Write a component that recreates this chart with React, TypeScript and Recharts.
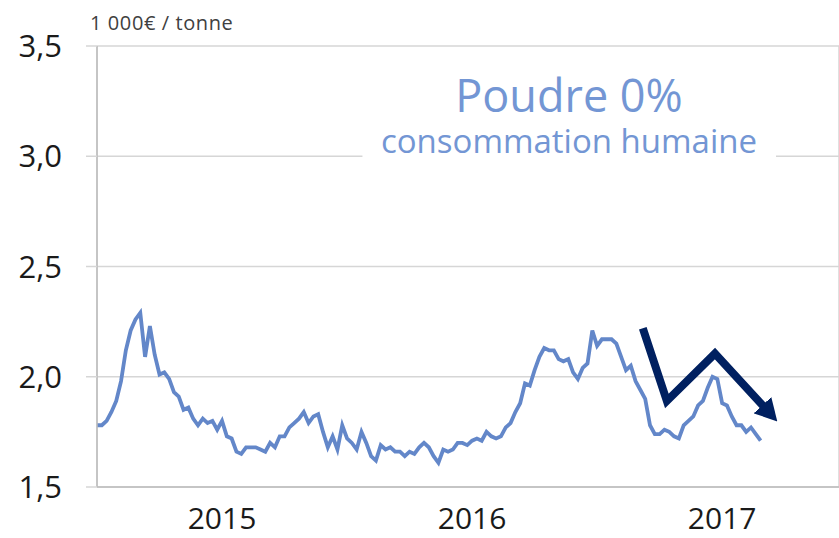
import {
  LineChart,
  Line,
  XAxis,
  YAxis,
  CartesianGrid,
  ReferenceArea,
} from "recharts";

// weekly prices, 1 000 € / tonne
const prices2015 = [
  1.78, 1.78, 1.8, 1.84, 1.89, 1.98, 2.12, 2.21, 2.26, 2.29, 2.09, 2.23, 2.1,
  2.01, 2.02, 1.99, 1.93, 1.91, 1.85, 1.86, 1.81, 1.78, 1.81, 1.79, 1.8, 1.76,
  1.8, 1.73, 1.72, 1.66, 1.65, 1.68, 1.68, 1.68, 1.67, 1.66, 1.7, 1.68, 1.73,
  1.73, 1.77, 1.79, 1.81, 1.84, 1.79, 1.82, 1.83, 1.75, 1.68, 1.73, 1.67, 1.78,
];
const prices2016 = [
  1.72, 1.7, 1.67, 1.75, 1.7, 1.64, 1.62, 1.69, 1.67, 1.68, 1.66, 1.66, 1.64,
  1.66, 1.65, 1.68, 1.7, 1.68, 1.64, 1.61, 1.67, 1.66, 1.67, 1.7, 1.7, 1.69,
  1.71, 1.72, 1.71, 1.75, 1.73, 1.72, 1.73, 1.77, 1.79, 1.84, 1.88, 1.97, 1.96,
  2.03, 2.09, 2.13, 2.12, 2.12, 2.08, 2.07, 2.08, 2.02, 1.99, 2.04, 2.06, 2.21,
];
const prices2017 = [
  2.14, 2.17, 2.17, 2.17, 2.15, 2.09, 2.03, 2.05, 1.98, 1.94, 1.9, 1.78, 1.74,
  1.74, 1.76, 1.75, 1.73, 1.72, 1.78, 1.8, 1.82, 1.87, 1.89, 1.95, 2.0, 1.99,
  1.88, 1.87, 1.82, 1.78, 1.78, 1.75, 1.77, 1.74, 1.71,
];

const yearLabels = ["2015", "2016", "2017"];
const yearStarts = [0, 52, 104];
const yearMids = [26, 78, 130];
const yTicks = [1.5, 2.0, 2.5, 3.0, 3.5];

// trend arrow, in (week, value)
const arrowPoints = [
  { week: 113.5, value: 2.22 },
  { week: 118.5, value: 1.89 },
  { week: 128.5, value: 2.105 },
  { week: 138.8, value: 1.861 },
];

const data = [...prices2015, ...prices2016, ...prices2017].map((v, i) => ({
  week: i,
  price: v,
}));

const X_DOMAIN: [number, number] = [0, 154.3];
const LINE_COLOR = "#6387c9";
const TITLE_COLOR = "#7396d4";
const ARROW_COLOR = "#002060";
const GRID = "#d6d6d6";
const AXIS = "#bcbcbc";
const FONT = "'Open Sans', sans-serif";

export default function App() {
  return (
    <div
      style={{
        position: "absolute",
        left: 0,
        top: 0,
        width: 839,
        height: 538,
        background: "#fff",
        fontFamily: FONT,
      }}
    >
      <LineChart
        width={839}
        height={538}
        data={data}
        margin={{ top: 46, right: 0, bottom: 0, left: 0 }}
      >
        <CartesianGrid stroke={GRID} strokeWidth={1.5} />
        <ReferenceArea
          x1={55.2}
          x2={141.2}
          y1={2.97}
          y2={3.4}
          fill="#fff"
          fillOpacity={1}
          stroke="none"
        />
        <XAxis
          dataKey="week"
          type="number"
          domain={X_DOMAIN}
          ticks={yearStarts}
          tick={false}
          tickSize={10}
          height={10}
          axisLine={{ stroke: AXIS, strokeWidth: 1.5 }}
          tickLine={{ stroke: AXIS, strokeWidth: 1.5 }}
        />
        <XAxis
          xAxisId="years"
          dataKey="week"
          type="number"
          domain={X_DOMAIN}
          ticks={yearMids}
          tickFormatter={(v) => yearLabels[yearMids.indexOf(v)]}
          axisLine={false}
          tickLine={false}
          tickSize={0}
          tickMargin={11}
          height={41}
          tick={{ fontSize: 30, fill: "#1a1a1a", fontFamily: FONT }}
        />
        <YAxis
          type="number"
          domain={[1.5, 3.5]}
          ticks={yTicks}
          width={97}
          tickSize={11}
          tickMargin={24}
          tickFormatter={(v) => v.toFixed(1).replace(".", ",")}
          axisLine={{ stroke: AXIS, strokeWidth: 1.5 }}
          tickLine={{ stroke: GRID, strokeWidth: 1.5 }}
          tick={{ fontSize: 31, fill: "#1a1a1a", fontFamily: FONT }}
        />
        <Line
          dataKey="price"
          type="linear"
          stroke={LINE_COLOR}
          strokeWidth={3.8}
          dot={false}
          activeDot={false}
          isAnimationActive={false}
        />
        <Line
          data={arrowPoints}
          dataKey="value"
          type="linear"
          stroke={ARROW_COLOR}
          strokeWidth={8}
          strokeLinejoin="miter"
          strokeLinecap="butt"
          markerEnd="url(#arrowHead)"
          dot={false}
          activeDot={false}
          isAnimationActive={false}
        />
      </LineChart>
      <svg
        width={839}
        height={538}
        style={{ position: "absolute", left: 0, top: 0, pointerEvents: "none" }}
      >
        <defs>
          <marker
            id="arrowHead"
            markerUnits="userSpaceOnUse"
            markerWidth={22}
            markerHeight={24}
            refX={3}
            refY={12}
            orient="auto"
          >
            <path d="M0,0 L22,12 L0,24 Z" fill={ARROW_COLOR} />
          </marker>
        </defs>
        <text
          x={90}
          y={30}
          fontSize={20}
          letterSpacing={0.6}
          fill="#404040"
          fontFamily={FONT}
        >
          1 000€ / tonne
        </text>
        <text
          x={569}
          y={112}
          fontSize={45}
          fill={TITLE_COLOR}
          textAnchor="middle"
          fontFamily={FONT}
        >
          Poudre 0%
        </text>
        <text
          x={569}
          y={153}
          fontSize={33}
          fill={TITLE_COLOR}
          textAnchor="middle"
          fontFamily={FONT}
        >
          consommation humaine
        </text>
      </svg>
    </div>
  );
}
